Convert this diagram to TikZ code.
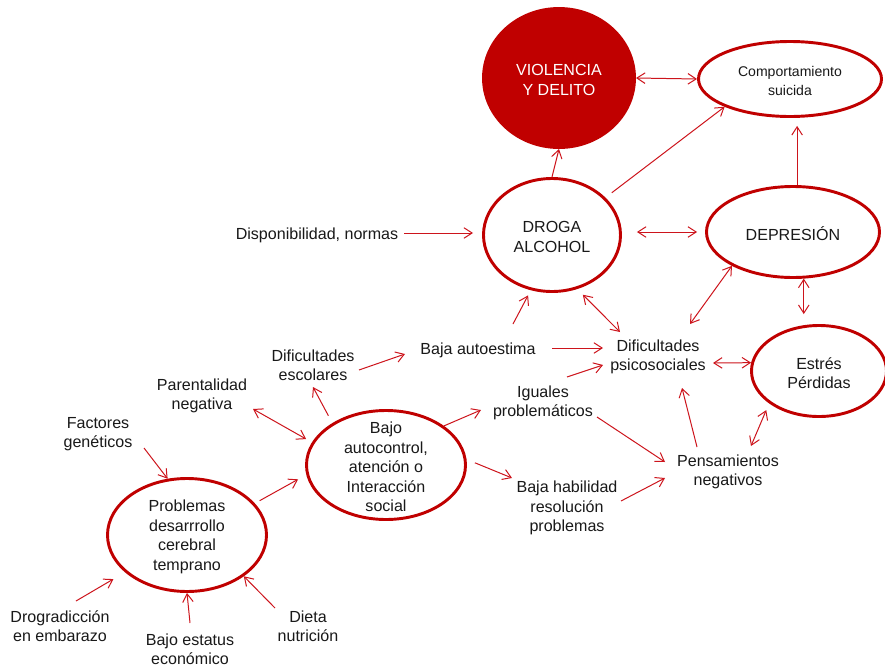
\documentclass[tikz,border=0pt]{standalone}
\usepackage{fontspec}
\setmainfont{Liberation Sans}
\usetikzlibrary{arrows.meta,shapes.geometric}
\definecolor{dred}{RGB}{192,0,0}
\definecolor{ared}{RGB}{205,20,28}
\definecolor{txt}{RGB}{25,25,25}
\begin{document}
\begin{tikzpicture}[x=0.03cm,y=-0.03cm,
  every node/.style={font=\fontsize{13.7pt}{16.6pt}\selectfont, text=txt},
  bub/.style={ellipse, draw=dred, line width=2.5pt, inner sep=0pt},
  lbl/.style={align=center, inner sep=0pt},
  inlbl/.style={lbl, yshift=-0.06cm},
  con/.style={draw=ared, line width=0.85pt},
  one/.style={con, -{Straight Barb[length=7pt,width=9pt]}},
  two/.style={con, {Straight Barb[length=7pt,width=9pt]}-{Straight Barb[length=7pt,width=9pt]}},
]
\useasboundingbox (0,0) rectangle (885,667);
\fill[white] (0,0) rectangle (885,667);
\clip (0,0) rectangle (885,667);

% ellipses
\node[bub, fill=dred, minimum width=4.53cm, minimum height=4.17cm,
  label={[inlbl,text=white]center:VIOLENCIA\\Y DELITO}] (viol) at (559,78) {};
\node[bub, minimum width=5.49cm, minimum height=2.25cm,
  label={[inlbl,font=\fontsize{12pt}{16pt}\selectfont]center:Comportamiento\\suicida}] (comp) at (790,79) {};
\node[bub, minimum width=4.11cm, minimum height=3.39cm,
  label={[inlbl]center:DROGA\\ALCOHOL}] (droga) at (552,235) {};
\node[bub, minimum width=5.19cm, minimum height=2.73cm,
  label={[inlbl]center:DEPRESIÓN}] (depr) at (793,232) {};
\node[bub, minimum width=4.05cm, minimum height=2.73cm,
  label={[inlbl]center:Estrés\\Pérdidas}] (estres) at (819,371) {};
\node[bub, minimum width=4.77cm, minimum height=3.27cm,
  label={[inlbl]center:Bajo\\autocontrol,\\atención o\\Interacción\\social}] (bajo) at (386,465) {};
\node[bub, minimum width=4.77cm, minimum height=3.39cm,
  label={[inlbl]center:Problemas\\desarrrollo\\cerebral\\temprano}] (prob) at (187,535) {};

% text nodes
\node[lbl] (dispo) at (317,235) {Disponibilidad, normas};
\node[lbl] (escol) at (313,365) {Dificultades\\escolares};
\node[lbl] (autoest) at (478,350) {Baja autoestima};
\node[lbl] (parent) at (202,396) {Parentalidad\\negativa};
\node[lbl] (factores) at (98,434) {Factores\\genéticos};
\node[lbl] (iguales) at (543,403) {Iguales\\problemáticos};
\node[lbl] (psico) at (658,357) {Dificultades\\psicosociales};
\node[lbl] (pensa) at (728,472) {Pensamientos\\negativos};
\node[lbl] (habil) at (567,508) {Baja habilidad\\resolución\\problemas};
\node[lbl] (drogra) at (60,626) {Drogradicción\\en embarazo};
\node[lbl] (estatus) at (190,649) {Bajo estatus\\económico};
\node[lbl] (dieta) at (308,626) {Dieta\\nutrición};

% connectors
\draw[two] (viol.0) -- (comp.180);
\draw[one] (droga.90) -- (viol.-90);
\draw[one, shorten <=6.8pt] (droga.35) -- (comp.203);
\draw[one, shorten >=6.8pt] (depr.85) -- (depr.85 |- comp.south);
\draw[one, shorten <=5.1pt, shorten >=7.7pt] ([shift={(0,-2)}]dispo.east) -- ([shift={(0,-2)}]dispo.east -| droga.west);
\draw[two, shorten <=12.8pt, shorten >=6.8pt] (depr.west -| droga.east) -- (depr.west);
\draw[two] (depr.209) -- ([shift={(32,-33)}]psico.center);
\draw[two, shorten >=8.5pt] (depr.-77) -- (depr.-77 |- estres.north);
\draw[one, shorten >=5pt] ([shift={(35,-26)}]autoest.center) -- (droga.-111);
\draw[two, shorten <=6.8pt] (droga.-65) -- ([shift={(-38,-25)}]psico.center);
\draw[one] ([shift={(74,-2)}]autoest.center) -- ([shift={(-55,-9)}]psico.center);
\draw[two] ([shift={(55,6)}]psico.center) -- (estres.173);
\draw[one] ([shift={(24,-26)}]iguales.center) -- ([shift={(-55,8)}]psico.center);
\draw[one] ([shift={(-31,-25)}]pensa.center) -- ([shift={(24,31)}]psico.center);
\draw[two, shorten <=6.2pt] (estres.213) -- ([shift={(23,-26)}]pensa.center);
\draw[one] ([shift={(54,14)}]iguales.center) -- ([shift={(-63,-10)}]pensa.center);
\draw[one] ([shift={(54,-7)}]habil.center) -- ([shift={(-63,6)}]pensa.center);
\draw[one, shorten <=7.7pt] (bajo.4) -- ([shift={(-55,-30)}]habil.center);
\draw[one] (bajo.34) -- ([shift={(-62,7)}]iguales.center);
\draw[one, shorten <=7.1pt] (bajo.142) -- ([shift={(0,22)}]escol.center);
\draw[one] ([shift={(46,5)}]escol.center) -- ([shift={(-73,4)}]autoest.center);
\draw[two, shorten >=5.7pt] ([shift={(51,13)}]parent.center) -- (bajo.163);
\draw[one, shorten <=4.7pt, shorten >=8pt] (prob.25) -- (bajo.-173);
\draw[one] ([shift={(46,14)}]factores.center) -- (prob.109);
\draw[one, shorten >=11.5pt] ([shift={(16,-25)}]drogra.center) -- (prob.211);
\draw[one] ([shift={(0,-26)}]estatus.center) -- (prob.-90);
\draw[one] ([shift={(-33,-18)}]dieta.center) -- (prob.-36);
\end{tikzpicture}
\end{document}
